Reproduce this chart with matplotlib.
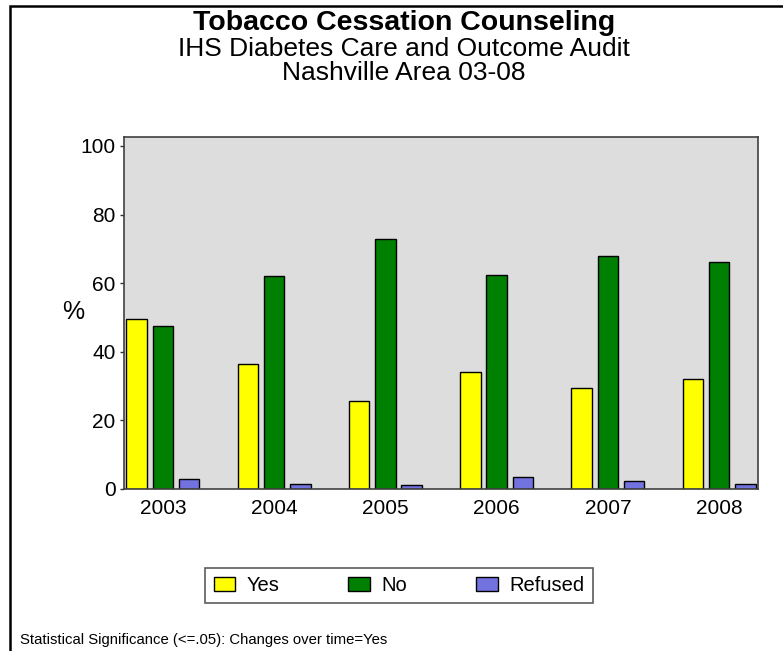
import numpy as np
import matplotlib
matplotlib.use("Agg")
import matplotlib.pyplot as plt
from matplotlib.patches import Rectangle

plt.rcParams['font.family'] = ['Liberation Sans', 'DejaVu Sans']

years = ['2003', '2004', '2005', '2006', '2007', '2008']
yes_pct = [49.5, 36.4, 25.7, 34.0, 29.3, 32.1]
no_pct = [47.5, 62.2, 72.9, 62.4, 68.0, 66.3]
refused_pct = [3.0, 1.4, 1.1, 3.5, 2.4, 1.5]

series = [('Yes', yes_pct, '#FFFF00'),
          ('No', no_pct, '#008000'),
          ('Refused', refused_pct, '#7373E0')]

W, H = 783, 651
fig = plt.figure(figsize=(W / 100, H / 100), dpi=100)
ax = fig.add_axes([124 / W, 1 - 489 / H, 634 / W, 352 / H])
ax.set_facecolor('#DDDDDD')

x = np.arange(len(years))
width = 0.185
step = 0.236
for i, (name, vals, color) in enumerate(series):
    ax.bar(x + (i - 1) * step, vals, width, color=color,
           edgecolor='black', linewidth=1, label=name)

ax.set_xlim(-0.35, 5.35)
ax.set_ylim(0, 102.6)
ax.set_yticks([0, 20, 40, 60, 80, 100])
ax.set_xticks(x)
ax.set_xticklabels(years)
ax.tick_params(axis='y', labelsize=15, length=3, width=1, color='#333333', pad=3)
ax.tick_params(axis='x', labelsize=15, length=0, pad=7)
for side in ['left', 'bottom', 'right', 'top']:
    ax.spines[side].set_color('#404040')
    ax.spines[side].set_linewidth(1.2)

fig.text(73 / W, 1 - 312 / H, '%', fontsize=18, ha='center', va='center')

# titles
cx = 404 / W
fig.text(cx, 1 - 30 / H, 'Tobacco Cessation Counseling', fontsize=20.5,
         fontweight='bold', ha='center', va='baseline')
fig.text(cx, 1 - 56 / H, 'IHS Diabetes Care and Outcome Audit',
         fontsize=19, ha='center', va='baseline')
fig.text(cx, 1 - 80 / H, 'Nashville Area 03-08',
         fontsize=19, ha='center', va='baseline')

leg = fig.legend(loc='center', bbox_to_anchor=(399 / W, 1 - 585.5 / H),
                 ncol=3, fontsize=14.5, frameon=True, fancybox=False,
                 handlelength=1.09, handleheight=0.65, handletextpad=0.55,
                 columnspacing=3.43, borderpad=0.4)
leg.get_frame().set_edgecolor('#333333')
leg.get_frame().set_linewidth(1.2)

fig.text(20 / W, 1 - 644 / H,
         'Statistical Significance (<=.05): Changes over time=Yes',
         fontsize=10.7, ha='left', va='baseline')

# outer border
fig.add_artist(Rectangle((9.5 / W, -0.1), 1.0, 1 - 5.5 / H + 0.1,
                         transform=fig.transFigure, fill=False,
                         edgecolor='black', linewidth=1.8))

fig.savefig('out.png', dpi=100)
